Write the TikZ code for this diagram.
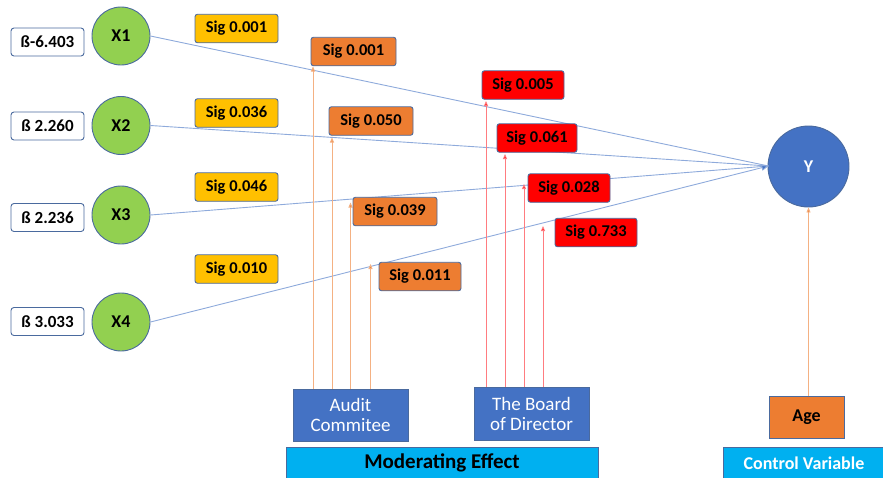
\documentclass[tikz,border=0pt]{standalone}
\usepackage{fontspec}
\setmainfont{Carlito}
\usetikzlibrary{arrows.meta}
\definecolor{bordc}{HTML}{4A6A9E}
\definecolor{ylw}{HTML}{FFC000}
\definecolor{org}{HTML}{ED7D31}
\definecolor{rd}{HTML}{FF0000}
\definecolor{grn}{HTML}{92D050}
\definecolor{blu}{HTML}{4472C4}
\definecolor{cyn}{HTML}{00B0F0}
\definecolor{lblu}{HTML}{8EAADB}
\definecolor{lorg}{HTML}{F4B183}
\definecolor{lrd}{HTML}{FF7C80}
\tikzset{
  sigbox/.style={draw=bordc, rounded corners=2.5pt, line width=0.9pt, inner sep=0pt,
     minimum height=28.5pt, font=\bfseries\fontsize{16.5}{18}\selectfont, text=black},
  betabox/.style={draw=bordc, fill=white, rounded corners=3pt, line width=0.9pt, inner sep=0pt,
     minimum width=73pt, minimum height=28pt, font=\bfseries\fontsize{17}{19}\selectfont},
  xcirc/.style={circle, draw=bordc, fill=grn, line width=0.9pt, minimum size=58pt, inner sep=0pt,
     font=\bfseries\fontsize{18}{20}\selectfont},
  modbox/.style={draw=bordc, fill=blu, line width=0.9pt, inner sep=0pt, text=white,
     font=\fontsize{19}{20}\selectfont, align=center},
  barbox/.style={draw=bordc, fill=cyn, line width=0.6pt, inner sep=0pt},
  mainline/.style={draw=lblu, line width=0.9pt},
  orgline/.style={draw=lorg, line width=0.9pt, -{Triangle[length=5pt,width=4pt,fill=org]}},
  rdline/.style={draw=lrd, line width=0.9pt, -{Triangle[length=5pt,width=4pt,fill=rd]}},
}
\begin{document}
\begin{tikzpicture}[x=1pt,y=-1pt]
\useasboundingbox (0,0) rectangle (883,477);
% beta boxes
\node[betabox] (b1) at (47.5,42) {ß-6.403};
\node[betabox] (b2) at (47.5,126) {ß 2.260};
\node[betabox] (b3) at (47.5,217.5) {ß 2.236};
\node[betabox] (b4) at (47.5,321.5) {ß 3.033};
% X circles
\node[xcirc] (x1) at (121,36) {X1};
\node[xcirc] (x2) at (121,125.5) {X2};
\node[xcirc] (x3) at (121,215) {X3};
\node[xcirc] (x4) at (121,322) {X4};
% Y
\node[circle, draw=bordc, fill=blu, line width=0.9pt, minimum size=81pt, inner sep=0pt,
      text=white, font=\bfseries\fontsize{18}{20}\selectfont] (y) at (808.5,166.5) {Y};
\coordinate (yin) at (768.5,166);
% main lines
\draw[mainline] (x1.east) -- (yin);
\draw[mainline] (x2.east) -- (yin);
\draw[mainline] (x3.east) -- (yin);
\draw[mainline, -{Triangle[length=7pt,width=6pt,fill=blu]}, draw=lblu] (x4.east) -- (yin);
% yellow sig boxes
\node[sigbox, fill=ylw, minimum width=83pt] (s1) at (236.5,28.5) {Sig 0.001};
\node[sigbox, fill=ylw, minimum width=83pt] (s2) at (236.5,113) {Sig 0.036};
\node[sigbox, fill=ylw, minimum width=83pt] (s3) at (236.5,187) {Sig 0.046};
\node[sigbox, fill=ylw, minimum width=83pt] (s4) at (236.5,269) {Sig 0.010};
% moderator boxes
\node[modbox, minimum width=115pt, minimum height=52pt] (audit) at (350.5,415) {Audit\\[0pt]Commitee};
\node[modbox, minimum width=115pt, minimum height=53pt] (board) at (531.5,413.5) {The Board\\[0pt]of Director};
% orange arrow tips
\coordinate (a1) at (313,66.5);
\coordinate (a2) at (332,137.5);
\coordinate (a3) at (350.5,202.5);
\coordinate (a4) at (370.5,264);
\draw[orgline] (audit.north -| a1) -- (a1);
\draw[orgline] (audit.north -| a2) -- (a2);
\draw[orgline] (audit.north -| a3) -- (a3);
\draw[orgline] (audit.north -| a4) -- (a4);
% red arrow tips
\coordinate (r1) at (486,101);
\coordinate (r2) at (505,154);
\coordinate (r3) at (524,184);
\coordinate (r4) at (543,226);
\draw[rdline] (board.north -| r1) -- (r1);
\draw[rdline] (board.north -| r2) -- (r2);
\draw[rdline] (board.north -| r3) -- (r3);
\draw[rdline] (board.north -| r4) -- (r4);
% orange sig boxes
\node[sigbox, fill=org, minimum width=85pt] (o1) at (353.5,51.5) {Sig 0.001};
\node[sigbox, fill=org, minimum width=84pt] (o2) at (371,121) {Sig 0.050};
\node[sigbox, fill=org, minimum width=84pt] (o3) at (395,211.5) {Sig 0.039};
\node[sigbox, fill=org, minimum width=82pt] (o4) at (420,276.5) {Sig 0.011};
% red sig boxes
\node[sigbox, fill=rd, minimum width=82pt] (d1) at (523,85) {Sig 0.005};
\node[sigbox, fill=rd, minimum width=80pt] (d2) at (537,138) {Sig 0.061};
\node[sigbox, fill=rd, minimum width=82pt] (d3) at (569,188) {Sig 0.028};
\node[sigbox, fill=rd, minimum width=82pt] (d4) at (596,232.5) {Sig 0.733};
% age
\node[draw=bordc, fill=org, line width=0.9pt, minimum width=75pt, minimum height=42pt, inner sep=0pt,
      font=\bfseries\fontsize{18}{20}\selectfont] (age) at (806.5,417) {Age};
\draw[draw=lorg, line width=0.9pt, -{Triangle[length=5pt,width=4pt,fill=org]}] (age.north -| y) -- (y.south);
% bars
\node[barbox, minimum width=312pt, minimum height=32pt, font=\fontsize{21}{23}\selectfont\bfseries] (mod) at (442,463) {Moderating Effect};
\node[barbox, minimum width=162pt, minimum height=32pt, text=white, font=\fontsize{18}{20}\selectfont\bfseries] (ctrl) at (804,463) {Control Variable};
\end{tikzpicture}
\end{document}
